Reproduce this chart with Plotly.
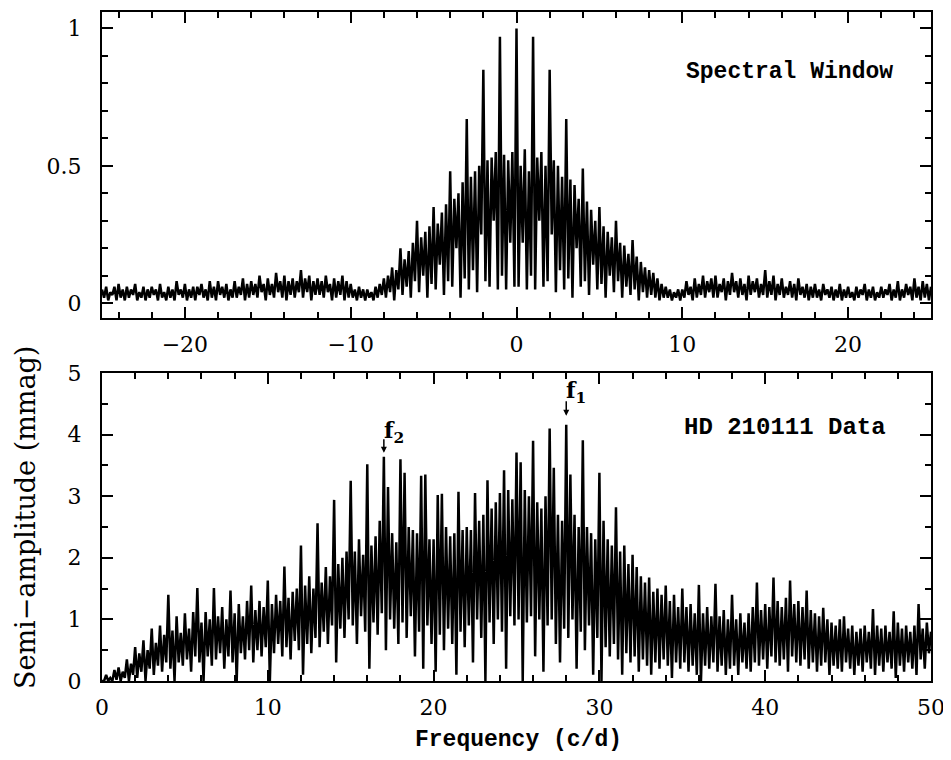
import plotly.graph_objects as go

# ---------------- data ----------------
# Spectral window: local maxima on a 0.25 c/d grid from -25 to 25,
# local minima at the mid-points between them.
WIN_F0, WIN_STEP = -25.0, 0.25
win_hi = [
    0.05, 0.06, 0.04, 0.06,  0.07, 0.05, 0.06, 0.05,  0.07, 0.04, 0.06, 0.05,
    0.06, 0.05, 0.07, 0.04,  0.06, 0.05, 0.08, 0.05,  0.07, 0.05, 0.06, 0.06,
    0.07, 0.05, 0.08, 0.06,  0.08, 0.06, 0.07, 0.05,  0.08, 0.06, 0.09, 0.07,
    0.08, 0.07, 0.10, 0.07,  0.09, 0.07, 0.11, 0.08,  0.10, 0.08, 0.09, 0.08,
    0.12, 0.09, 0.10, 0.08,  0.09, 0.08, 0.10, 0.07,  0.09, 0.08, 0.10, 0.08,
    0.07, 0.05, 0.06, 0.05,  0.05, 0.04, 0.06, 0.07,  0.09, 0.10, 0.13, 0.12,
    0.20, 0.16, 0.19, 0.22,  0.30, 0.24, 0.26, 0.28,  0.35, 0.29, 0.33, 0.36,
    0.48, 0.38, 0.40, 0.44,  0.67, 0.46, 0.48, 0.50,  0.85, 0.52, 0.53, 0.55,
    0.97, 0.54, 0.52, 0.55,
    1.00, 0.50, 0.56, 0.48,  0.97, 0.53, 0.55, 0.50,  0.85, 0.52, 0.50, 0.46,
    0.67, 0.45, 0.43, 0.38,  0.49, 0.37, 0.34, 0.30,  0.35, 0.28, 0.26, 0.24,
    0.30, 0.22, 0.21, 0.18,  0.23, 0.17, 0.15, 0.13,  0.12, 0.11, 0.09, 0.07,
    0.06, 0.05, 0.04, 0.05,  0.05, 0.08, 0.06, 0.09,  0.07, 0.10, 0.08, 0.09,
    0.10, 0.07, 0.09, 0.08,  0.11, 0.08, 0.09, 0.07,  0.10, 0.08, 0.09, 0.07,
    0.12, 0.08, 0.10, 0.07,  0.09, 0.06, 0.08, 0.07,  0.09, 0.06, 0.07, 0.06,
    0.07, 0.05, 0.07, 0.05,  0.06, 0.05, 0.07, 0.05,  0.06, 0.04, 0.06, 0.05,
    0.07, 0.05, 0.06, 0.04,  0.06, 0.05, 0.07, 0.05,  0.08, 0.05, 0.07, 0.06,
    0.09, 0.06, 0.08, 0.07,
    0.06,
]
win_lo = [
    0.02, 0.01, 0.03, 0.01,  0.02, 0.01, 0.02, 0.03,  0.01, 0.02, 0.01, 0.02,
    0.03, 0.01, 0.02, 0.01,  0.02, 0.01, 0.03, 0.02,  0.01, 0.02, 0.01, 0.03,
    0.02, 0.01, 0.02, 0.01,  0.03, 0.02, 0.01, 0.02,  0.02, 0.03, 0.01, 0.02,
    0.03, 0.02, 0.04, 0.01,  0.03, 0.02, 0.04, 0.02,  0.01, 0.03, 0.02, 0.04,
    0.02, 0.04, 0.01, 0.03,  0.03, 0.02, 0.04, 0.01,  0.02, 0.03, 0.01, 0.02,
    0.02, 0.01, 0.02, 0.01,  0.02, 0.01, 0.02, 0.03,  0.02, 0.04, 0.01, 0.05,
    0.03, 0.06, 0.02, 0.08,  0.04, 0.10, 0.02, 0.07,  0.05, 0.14, 0.03, 0.08,
    0.06, 0.20, 0.02, 0.09,  0.05, 0.12, 0.04, 0.25,  0.08, 0.06, 0.30, 0.05,
    0.10, 0.05, 0.22, 0.06,
    0.06, 0.22, 0.05, 0.10,  0.05, 0.30, 0.06, 0.08,  0.25, 0.04, 0.12, 0.05,
    0.09, 0.02, 0.20, 0.06,  0.08, 0.03, 0.14, 0.05,  0.07, 0.02, 0.10, 0.04,
    0.08, 0.02, 0.06, 0.03,  0.05, 0.01, 0.04, 0.02,  0.03, 0.02, 0.01, 0.02,
    0.02, 0.01, 0.02, 0.01,  0.02, 0.03, 0.01, 0.02,  0.03, 0.02, 0.04, 0.02,
    0.02, 0.04, 0.01, 0.03,  0.04, 0.02, 0.03, 0.01,  0.03, 0.04, 0.02, 0.03,
    0.02, 0.03, 0.01, 0.03,  0.02, 0.03, 0.02, 0.01,  0.03, 0.02, 0.01, 0.02,
    0.02, 0.01, 0.03, 0.02,  0.01, 0.02, 0.01, 0.02,  0.02, 0.01, 0.02, 0.03,
    0.01, 0.02, 0.01, 0.02,  0.02, 0.03, 0.01, 0.02,  0.01, 0.02, 0.03, 0.01,
    0.02, 0.01, 0.02, 0.01,
]

# HD 210111 amplitude spectrum (mmag): maxima on a 0.25 c/d grid 0..50,
# minima at mid-points.
DAT_F0, DAT_STEP = 0.0, 0.25
dat_hi = [
    0.00, 0.10, 0.05, 0.18,  0.22, 0.15, 0.35, 0.28,  0.55, 0.45, 0.66, 0.50,
    0.85, 0.62, 0.90, 0.75,  1.40, 0.82, 1.05, 0.78,  1.10, 0.85, 1.12, 1.51,
    0.95, 1.12, 1.00, 1.51,  1.05, 1.20, 1.00, 1.47,  1.10, 1.25, 1.05, 1.30,
    1.55, 1.15, 1.30, 1.20,  1.63, 1.25, 1.40, 1.30,  1.86, 1.35, 1.45, 1.50,
    2.20, 1.55, 1.70, 1.50,  2.56, 1.60, 1.85, 1.70,  2.94, 1.90, 2.00, 2.10,
    3.25, 2.10, 2.30, 2.05,  3.52, 2.20, 2.35, 2.60,  3.64, 3.15, 2.40, 2.25,
    3.60, 3.38, 2.50, 2.45,  2.40, 3.33, 3.35, 2.30,  2.30, 3.02, 3.04, 2.50,
    2.35, 2.40, 3.07, 2.45,  2.50, 2.45, 3.05, 2.60,  2.70, 3.26, 2.80, 2.90,
    3.05, 3.42, 3.10, 2.95,  3.71, 3.55, 3.10, 3.00,  3.90, 2.90, 2.80, 3.00,
    4.10, 3.46, 2.70, 2.60,  4.16, 3.35, 2.70, 2.50,  3.91, 2.50, 2.40, 2.30,
    3.38, 2.60, 2.30, 2.20,  2.82, 2.10, 2.20, 1.90,  2.05, 1.85, 1.70, 1.60,
    1.68, 1.45, 1.50, 1.40,  1.55, 1.30, 1.40, 1.20,  1.50, 1.20, 1.25, 1.10,
    1.56, 1.10, 1.20, 1.05,  1.58, 1.05, 1.15, 1.00,  1.40, 1.00, 1.10, 0.95,
    1.10, 1.20, 1.60, 1.15,  1.25, 1.20, 1.68, 1.30,  1.20, 1.35, 1.63, 1.25,
    1.30, 1.20, 1.47, 1.15,  1.10, 1.05, 1.19, 1.00,  0.95, 0.90, 1.00, 1.05,
    0.85, 0.90, 0.80, 0.85,  0.90, 0.80, 1.17, 0.90,  0.85, 0.90, 0.80, 1.13,
    0.95, 0.85, 0.90, 0.80,  0.90, 1.25, 0.85, 0.95,
    0.80,
]
dat_lo = [
    0.00, 0.00, 0.00, 0.02,  0.00, 0.05, 0.00, 0.10,  0.05, 0.15, 0.00, 0.20,
    0.10, 0.25, 0.15, 0.30,  0.20, 0.00, 0.30, 0.25,  0.35, 0.15, 0.40, 0.30,
    0.00, 0.40, 0.25, 0.35,  0.45, 0.20, 0.40, 0.30,  0.00, 0.45, 0.35, 0.50,
    0.30, 0.50, 0.40, 0.55,  0.00, 0.45, 0.60, 0.40,  0.55, 0.35, 0.65, 0.50,
    0.10, 0.60, 0.45, 0.70,  0.55, 0.80, 0.60, 0.90,  0.30, 0.85, 0.70, 1.00,
    0.90, 0.60, 1.05, 0.80,  0.20, 0.95, 0.75, 1.10,  0.50, 1.00, 0.85, 0.60,
    0.95, 0.70, 1.05, 0.40,  0.80, 0.20, 0.90, 0.60,  0.15, 0.75, 0.50, 0.85,
    0.60, 0.10, 0.80, 0.55,  0.90, 0.30, 1.00, 0.70,  0.00, 0.95, 0.60, 1.00,
    0.80, 0.20, 1.05, 0.90,  1.00, 0.00, 0.95, 1.05,  0.40, 1.00, 0.15, 0.90,
    1.00, 0.60, 0.30, 0.85,  0.70, 1.00, 0.20, 0.80,  0.50, 0.90, 0.10, 0.70,
    0.00, 0.55, 0.40, 0.60,  0.35, 0.10, 0.45, 0.30,  0.40, 0.15, 0.35, 0.25,
    0.10, 0.30, 0.20, 0.35,  0.25, 0.05, 0.30, 0.20,  0.30, 0.15, 0.25, 0.10,
    0.00, 0.25, 0.20, 0.30,  0.15, 0.25, 0.10, 0.20,  0.25, 0.10, 0.30, 0.20,
    0.15, 0.30, 0.25, 0.35,  0.20, 0.40, 0.30, 0.25,  0.35, 0.15, 0.40, 0.30,
    0.25, 0.35, 0.20, 0.30,  0.15, 0.25, 0.30, 0.10,  0.25, 0.20, 0.15, 0.30,
    0.20, 0.10, 0.25, 0.15,  0.30, 0.20, 0.10, 0.25,  0.15, 0.30, 0.20, 0.05,
    0.25, 0.15, 0.30, 0.20,  0.10, 0.35, 0.20, 0.45,
]

# identified frequencies (c/d) and their peak amplitudes (mmag)
peak_labels = ["f<sub>1</sub>", "f<sub>2</sub>"]
peak_freq = [28.0, 17.0]
peak_amp = [4.16, 3.64]

# tick labels
win_xticks = [-20, -10, 0, 10, 20]
win_yticks = [0, 0.5, 1]
dat_xticks = [0, 10, 20, 30, 40, 50]
dat_yticks = [0, 1, 2, 3, 4, 5]

# marker styling for the two arrows (pixels): arrow tail lift, gap at tip, label lift
arrow_tail_px = [25, 19]
arrow_gap_px = [9, 4]
label_lift_px = [33, 25]


def zigzag(f0, step, hi, lo):
    assert len(hi) == len(lo) + 1
    xs, ys = [], []
    for i, h in enumerate(hi):
        xs.append(f0 + i * step)
        ys.append(h)
        if i < len(lo):
            xs.append(f0 + (i + 0.5) * step)
            ys.append(lo[i])
    return xs, ys


wx, wy = zigzag(WIN_F0, WIN_STEP, win_hi, win_lo)
dx, dy = zigzag(DAT_F0, DAT_STEP, dat_hi, dat_lo)

fig = go.Figure()
fig.add_trace(go.Scatter(x=wx, y=wy, mode="lines", xaxis="x", yaxis="y",
                         line=dict(color="black", width=2.5), showlegend=False))
fig.add_trace(go.Scatter(x=dx, y=dy, mode="lines", xaxis="x2", yaxis="y2",
                         line=dict(color="black", width=2.5), showlegend=False))

num_font = dict(family="DejaVu Serif", size=22, color="black")
mono_font = dict(family="Liberation Mono", size=23, color="black", weight="bold")

axis_common = dict(showline=True, linecolor="black", linewidth=2, mirror="allticks",
                   ticks="inside", ticklen=11, tickwidth=2, tickcolor="black",
                   showgrid=False, zeroline=False, tickfont=num_font,
                   automargin=False, ticklabeloverflow="allow")

# the page body adds an 8 px margin, so the figure is sized to fit inside it
fig.update_layout(
    template="none",
    width=943, height=752,
    margin=dict(l=94, r=20, t=4, b=79, autoexpand=False),
    paper_bgcolor="white", plot_bgcolor="white",
    xaxis=dict(domain=[0, 1], range=[-25, 25], anchor="y",
               tickvals=win_xticks, ticklabelstandoff=6,
               minor=dict(ticks="inside", dtick=2, ticklen=6, tickwidth=1.5, tickcolor="black"),
               **axis_common),
    yaxis=dict(domain=[0.5426, 1], range=[-0.054, 1.06], anchor="x",
               tickvals=win_yticks, ticktext=["0", "0.5", "1"], ticklabelstandoff=14,
               minor=dict(ticks="inside", dtick=0.1, ticklen=6, tickwidth=1.5, tickcolor="black"),
               **axis_common),
    xaxis2=dict(domain=[0, 1], range=[0, 50], anchor="y2",
                tickvals=dat_xticks, ticklabelstandoff=6,
                minor=dict(ticks="inside", dtick=2, ticklen=6, tickwidth=1.5, tickcolor="black"),
                **axis_common),
    yaxis2=dict(domain=[0, 0.4604], range=[0, 5], anchor="x2",
                tickvals=dat_yticks, ticklabelstandoff=14,
                minor=dict(ticks="inside", dtick=0.5, ticklen=6, tickwidth=1.5, tickcolor="black"),
                **axis_common),
)

ann = []
ann.append(dict(text="Spectral Window", x=10.1, y=0.84, xref="x", yref="y",
                xanchor="left", yanchor="middle", showarrow=False, font=mono_font))
ann.append(dict(text="HD 210111 Data", x=35.0, y=4.12, xref="x2", yref="y2",
                xanchor="left", yanchor="middle", showarrow=False,
                font=dict(mono_font, size=24)))
ann.append(dict(text="Frequency (c/d)", x=0.502, y=-0.088, xref="paper", yref="paper",
                xanchor="center", yanchor="middle", showarrow=False, font=mono_font))
ann.append(dict(text="Semi\u2212amplitude (mmag)", x=-0.093, y=0.245, xref="paper", yref="paper",
                xanchor="center", yanchor="middle", textangle=-90, showarrow=False,
                font=dict(family="DejaVu Serif", size=27, color="black")))
for lab, f, a, tail, gap, lift in zip(peak_labels, peak_freq, peak_amp,
                                      arrow_tail_px, arrow_gap_px, label_lift_px):
    ann.append(dict(text="", x=f, y=a, xref="x2", yref="y2", showarrow=True,
                    ax=0, ay=-tail, standoff=gap, arrowhead=2, arrowsize=0.8,
                    arrowwidth=1.5, arrowcolor="black"))
    ann.append(dict(text="<b>" + lab + "</b>", x=f, y=a, xref="x2", yref="y2",
                    xanchor="left", yanchor="middle", xshift=-2, yshift=lift,
                    showarrow=False,
                    font=dict(family="DejaVu Serif", size=22, color="black")))
fig.update_layout(annotations=ann)

fig.write_html("out.html")
